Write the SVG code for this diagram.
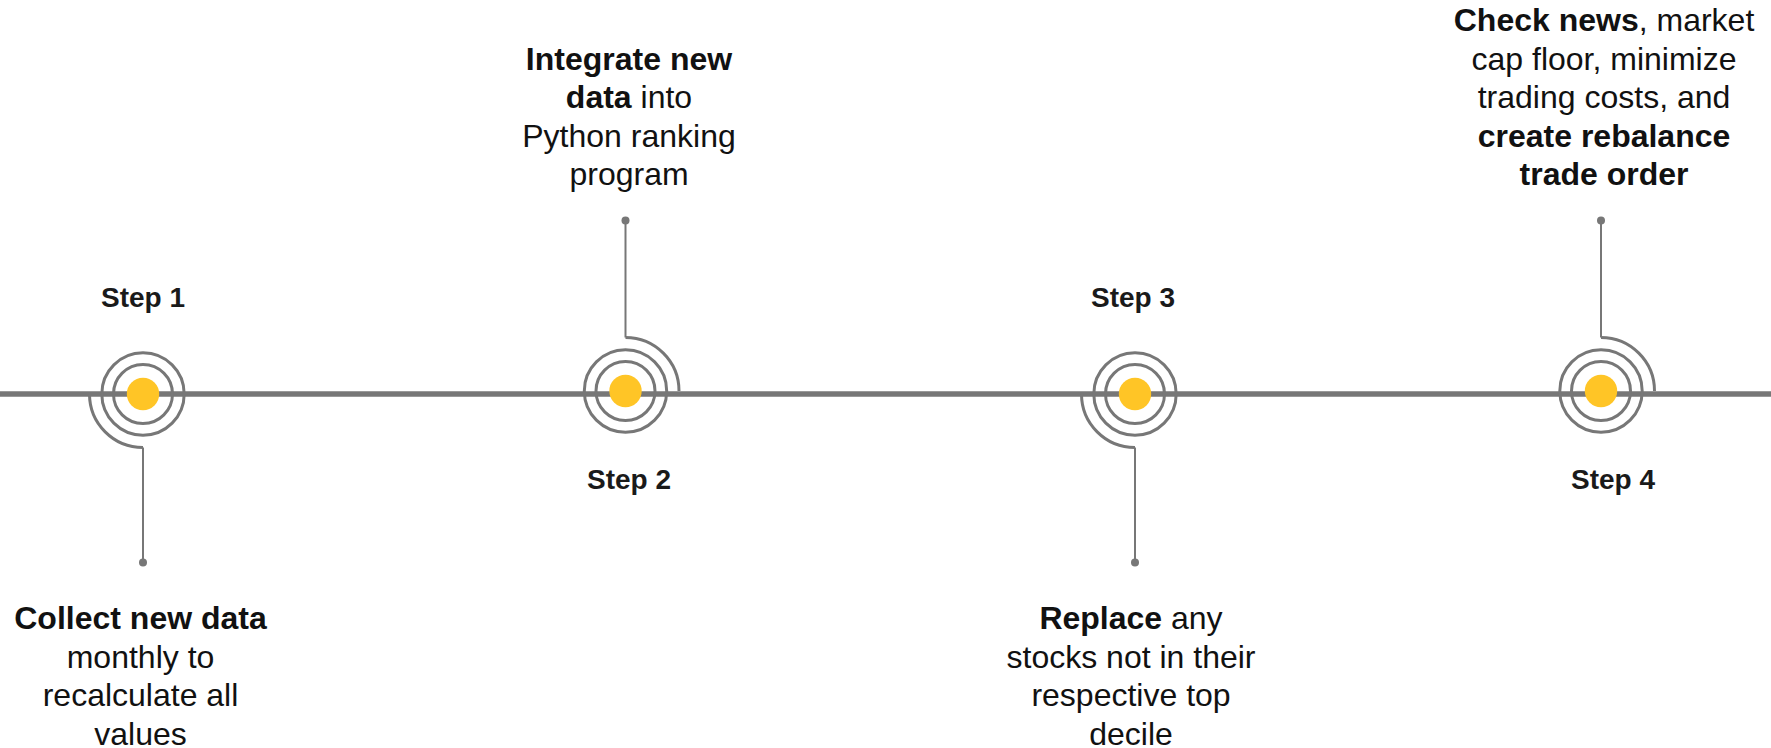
<svg xmlns="http://www.w3.org/2000/svg" width="1771" height="748" viewBox="0 0 1771 748">
  <style>
    .axis { stroke: #777777; stroke-width: 5.5; fill: none; }
    .ring { stroke: #777777; stroke-width: 3; fill: none; }
    .stem { stroke: #777777; stroke-width: 2; fill: none; }
    .tip { fill: #777777; }
    .core { fill: #FFC526; }
    .step { font-family: "Liberation Sans", Arial, sans-serif; font-size: 28px; font-weight: bold; fill: #1a1a1a; text-anchor: middle; }
    .desc { font-family: "Liberation Sans", Arial, sans-serif; font-size: 32px; fill: #111111; text-anchor: middle; }
    .b { font-weight: bold; }
  </style>

  <!-- timeline axis -->
  <g id="axis">
    <line class="axis" x1="0" y1="394" x2="1771" y2="394"/>
  </g>

  <!-- stems from each marker to its caption -->
  <g id="connectors">
    <line class="stem" x1="143" y1="447.5" x2="143" y2="562.5"/>
    <circle class="tip" cx="143" cy="562.5" r="4"/>
    <line class="stem" x1="625.5" y1="337.5" x2="625.5" y2="220.5"/>
    <circle class="tip" cx="625.5" cy="220.5" r="4"/>
    <line class="stem" x1="1135" y1="447.5" x2="1135" y2="562.5"/>
    <circle class="tip" cx="1135" cy="562.5" r="4"/>
    <line class="stem" x1="1601" y1="337.5" x2="1601" y2="220.5"/>
    <circle class="tip" cx="1601" cy="220.5" r="4"/>
  </g>

  <!-- Step 1 -->
  <g id="step1">
    <circle class="ring" cx="143" cy="394" r="29.5"/>
    <circle class="ring" cx="143" cy="394" r="41.2"/>
    <path class="ring" d="M 89.5 394 A 53.5 53.5 0 0 0 143 447.5"/>
    <circle class="core" cx="143" cy="394" r="16.2"/>
    <text class="step" x="143" y="307">Step 1</text>
    <text class="desc" x="140.5" y="629"><tspan class="b">Collect new data</tspan></text>
    <text class="desc" x="140.5" y="667.5">monthly to</text>
    <text class="desc" x="140.5" y="706">recalculate all</text>
    <text class="desc" x="140.5" y="744.5">values</text>
  </g>

  <!-- Step 2 -->
  <g id="step2">
    <circle class="ring" cx="625.5" cy="391" r="29.5"/>
    <circle class="ring" cx="625.5" cy="391" r="41.2"/>
    <path class="ring" d="M 625.5 337.5 A 53.5 53.5 0 0 1 679 391"/>
    <circle class="core" cx="625.5" cy="391" r="16.2"/>
    <text class="step" x="629" y="489">Step 2</text>
    <text class="desc" x="629" y="70"><tspan class="b">Integrate new</tspan></text>
    <text class="desc" x="629" y="108"><tspan class="b">data</tspan> into</text>
    <text class="desc" x="629" y="146.5">Python ranking</text>
    <text class="desc" x="629" y="185">program</text>
  </g>

  <!-- Step 3 -->
  <g id="step3">
    <circle class="ring" cx="1135" cy="394" r="29.5"/>
    <circle class="ring" cx="1135" cy="394" r="41.2"/>
    <path class="ring" d="M 1081.5 394 A 53.5 53.5 0 0 0 1135 447.5"/>
    <circle class="core" cx="1135" cy="394" r="16.2"/>
    <text class="step" x="1133" y="307">Step 3</text>
    <text class="desc" x="1131" y="629"><tspan class="b">Replace</tspan> any</text>
    <text class="desc" x="1131" y="667.5">stocks not in their</text>
    <text class="desc" x="1131" y="706">respective top</text>
    <text class="desc" x="1131" y="744.5">decile</text>
  </g>

  <!-- Step 4 -->
  <g id="step4">
    <circle class="ring" cx="1601" cy="391" r="29.5"/>
    <circle class="ring" cx="1601" cy="391" r="41.2"/>
    <path class="ring" d="M 1601 337.5 A 53.5 53.5 0 0 1 1654.5 391"/>
    <circle class="core" cx="1601" cy="391" r="16.2"/>
    <text class="step" x="1613" y="489">Step 4</text>
    <text class="desc" x="1604" y="31"><tspan class="b">Check news</tspan>, market</text>
    <text class="desc" x="1604" y="69.5">cap floor, minimize</text>
    <text class="desc" x="1604" y="108">trading costs, and</text>
    <text class="desc" x="1604" y="146.5"><tspan class="b">create rebalance</tspan></text>
    <text class="desc" x="1604" y="185"><tspan class="b">trade order</tspan></text>
  </g>
</svg>
